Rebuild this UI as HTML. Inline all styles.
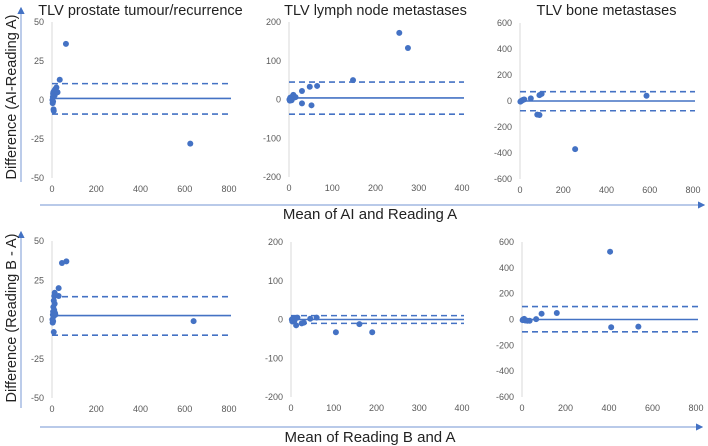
<!DOCTYPE html>
<html><head><meta charset="utf-8"><style>
body{margin:0;background:#fff;}
svg{display:block;font-family:"Liberation Sans",sans-serif;}
</style></head><body>
<svg id="c" width="708" height="446">
<defs><marker id="ar" markerWidth="6" markerHeight="6" refX="5" refY="3" orient="auto"><path d="M0,0 L6,3 L0,6 z" fill="#4472C4"/></marker></defs>
<line x1="21" y1="182" x2="21" y2="8" stroke="#8FAADC" stroke-width="1.2" marker-end="url(#ar)"/>
<text transform="translate(16,97) rotate(-90)" text-anchor="middle" font-size="14.5" fill="#222">Difference (AI-Reading A)</text>
<line x1="40" y1="205" x2="704" y2="205" stroke="#8FAADC" stroke-width="1.2" marker-end="url(#ar)"/>
<text x="370" y="219" text-anchor="middle" font-size="15" fill="#222">Mean of AI and Reading A</text>
<line x1="21" y1="408" x2="21" y2="232" stroke="#8FAADC" stroke-width="1.2" marker-end="url(#ar)"/>
<text transform="translate(16,318) rotate(-90)" text-anchor="middle" font-size="14.5" fill="#222">Difference (Reading B - A)</text>
<line x1="40" y1="427" x2="702" y2="427" stroke="#8FAADC" stroke-width="1.2" marker-end="url(#ar)"/>
<text x="370" y="442" text-anchor="middle" font-size="15" fill="#222">Mean of Reading B and A</text>
</svg>
<script>
// Panel data arrays
const p1X=[2,3,4,5,5,6,7,8,10,12,15,20,25,35,63,625];
const p1Y=[0,-2,2,4,-1,5,-6,-7,6,3,7,8,5,13,36,-28];
const p1Stats=[1,10.5,-9];
const p2X=[1,2,3,5,6,8,10,12,15,30,30,48,52,65,148,255,275];
const p2Y=[0,-3,5,2,-2,8,12,5,6,22,-10,33,-15,35,50,172,133];
const p2Stats=[4,45,-38];
const p3X=[2,5,10,15,20,50,80,90,90,100,255,585];
const p3Y=[-5,0,5,10,12,20,-105,-108,45,55,-370,40];
const p3Stats=[0,72,-75];
const p4X=[2,3,4,5,5,6,7,8,8,10,10,12,12,14,15,30,30,45,65,640];
const p4Y=[0,-2,3,5,-1,8,2,12,-8,15,6,17,10,4,3,20,15,36,37,-1];
const p4Stats=[2.5,14.5,-10];
const p5X=[2,3,5,8,10,12,15,25,30,45,60,105,160,190];
const p5Y=[0,-5,3,-3,2,-15,5,-10,-8,2,5,-33,-12,-33];
const p5Stats=[0,10,-10];
const p6X=[3,5,10,15,25,35,65,90,160,405,410,535];
const p6Y=[-5,0,5,-8,-10,-10,3,45,50,525,-60,-55];
const p6Stats=[0,100,-95];
const titles=["TLV prostate tumour/recurrence","TLV lymph node metastases","TLV bone metastases"];
const p1Ticks=[50,25,0,-25,-50], p2Ticks=[200,100,0,-100,-200], p3Ticks=[600,400,200,0,-200,-400,-600];
const xt800=[0,200,400,600,800], xt400=[0,100,200,300,400];

const svg=document.getElementById('c');
const NS='http://www.w3.org/2000/svg';
function mk(t,a){const e=document.createElementNS(NS,t);for(const k in a)e.setAttribute(k,a[k]);svg.appendChild(e);return e;}
function panel(id,ax,x0,x1,xmax,ytop,ybot,ymax,xs,ys,st,yt,xt,title){
  const sx=v=>x0+(v/xmax)*(x1-x0);
  const sy=v=>(ytop+ybot)/2-(v/ymax)*(ybot-ytop)/2;
  let e=mk('line',{x1:ax,y1:ytop,x2:ax,y2:ybot,stroke:'#D9D9D9'});
  
  
  yt.forEach(v=>{const t=mk('text',{x:ax-8,y:sy(v)+3,'text-anchor':'end','font-size':9,fill:'#595959'});t.textContent=v;
    
    });
  xt.forEach(v=>{const t=mk('text',{x:sx(v),y:ybot+14,'text-anchor':'middle','font-size':9,fill:'#595959'});t.textContent=v;
    
    });
  if(title){const t=mk('text',{x:(x0+x1)/2,y:15,'text-anchor':'middle','font-size':14.5,fill:'#222'});t.textContent=title;
    
    }
  xs.forEach((v,i)=>{const c=mk('circle',{cx:sx(v),cy:sy(ys[i]),r:3,fill:'#4472C4'});
    
    });
  st.forEach((v,i)=>{const l=mk('line',{x1:ax,x2:x1+2,y1:sy(v),y2:sy(v),stroke:'#4472C4','stroke-width':1.6});
    if(i>0)l.setAttribute('stroke-dasharray','6,4');
    
    });
}
panel('prostate-ai',52,52,229,800,22,178,50,p1X,p1Y,p1Stats,p1Ticks,xt800,titles[0]);
panel('lymph-ai',289,289,462,400,22,177,200,p2X,p2Y,p2Stats,p2Ticks,xt400,titles[1]);
panel('bone-ai',520,520,693,800,23,179,600,p3X,p3Y,p3Stats,p3Ticks,xt800,titles[2]);
panel('prostate-b',52,52,229,800,241,398,50,p4X,p4Y,p4Stats,p1Ticks,xt800,null);
panel('lymph-b',291,291,462,400,242,397,200,p5X,p5Y,p5Stats,p2Ticks,xt400,null);
panel('bone-b',522,522,696,800,242,397,600,p6X,p6Y,p6Stats,p3Ticks,xt800,null);
</script>
</body></html>
